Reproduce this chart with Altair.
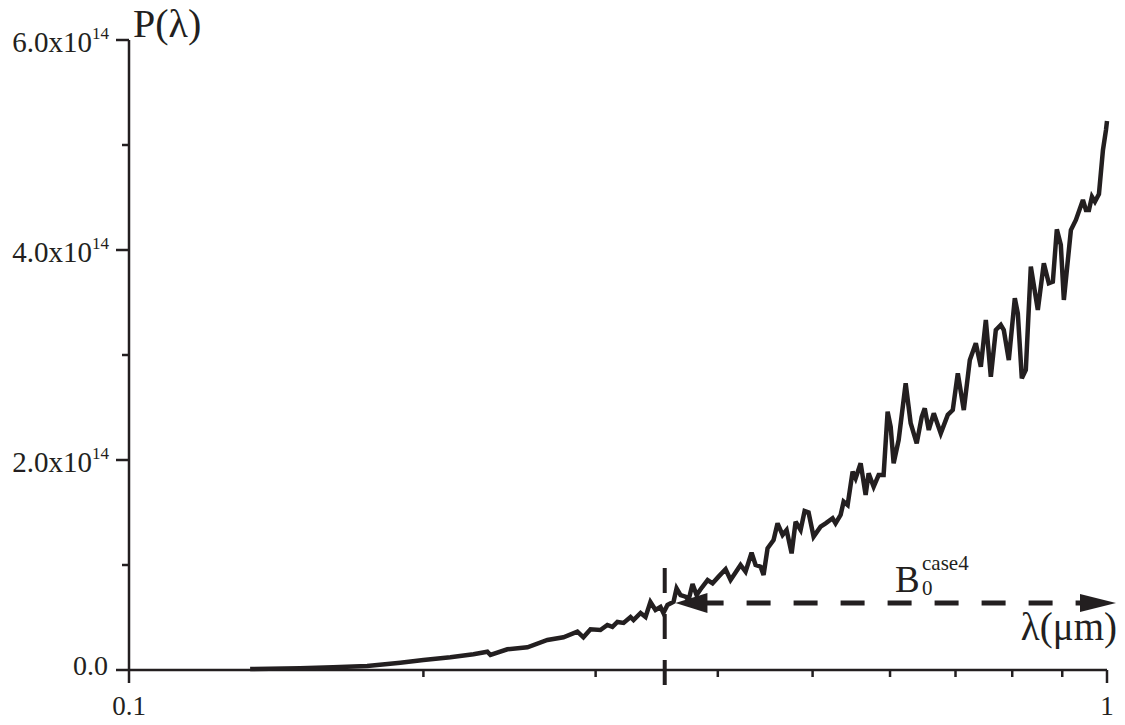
import altair as alt
import pandas as pd

INK = "#231f20"
SERIF = "Liberation Serif"

# Spectrum: wavelength (um) and power P(lambda) in units of 1e14
wavelength = [
    0.1330, 0.1496, 0.1617, 0.1752, 0.1894, 0.2000, 0.2131, 0.2250, 0.2325, 0.2342,
    0.2437, 0.2555, 0.2678, 0.2781, 0.2874, 0.2915, 0.2964, 0.3034, 0.3084, 0.3121,
    0.3158, 0.3204, 0.3257, 0.3280, 0.3335, 0.3374, 0.3413, 0.3454, 0.3495, 0.3519,
    0.3553, 0.3604, 0.3630, 0.3664, 0.3707, 0.3734, 0.3769, 0.3805, 0.3841, 0.3905,
    0.3951, 0.4007, 0.4074, 0.4122, 0.4220, 0.4270, 0.4331, 0.4372, 0.4424, 0.4455,
    0.4497, 0.4561, 0.4604, 0.4659, 0.4703, 0.4759, 0.4804, 0.4861, 0.4907, 0.4953,
    0.5012, 0.5095, 0.5156, 0.5241, 0.5278, 0.5341, 0.5379, 0.5430, 0.5494, 0.5533,
    0.5599, 0.5665, 0.5705, 0.5773, 0.5841, 0.5910, 0.5966, 0.6009, 0.6051, 0.6123,
    0.6225, 0.6299, 0.6389, 0.6465, 0.6511, 0.6573, 0.6651, 0.6761, 0.6874, 0.6955,
    0.7038, 0.7138, 0.7240, 0.7343, 0.7430, 0.7518, 0.7607, 0.7697, 0.7788, 0.7843,
    0.7936, 0.8049, 0.8106, 0.8183, 0.8260, 0.8358, 0.8497, 0.8618, 0.8720, 0.8803,
    0.8886, 0.8970, 0.9034, 0.9185, 0.9294, 0.9449, 0.9516, 0.9584, 0.9652, 0.9720,
    0.9812, 0.9905, 0.9976, 1.0000,
]
power_e14 = [
    0.010, 0.016, 0.026, 0.038, 0.070, 0.095, 0.121, 0.150, 0.174, 0.143,
    0.197, 0.216, 0.286, 0.311, 0.365, 0.311, 0.388, 0.381, 0.429, 0.410,
    0.457, 0.448, 0.505, 0.476, 0.543, 0.505, 0.648, 0.571, 0.600, 0.543,
    0.619, 0.650, 0.778, 0.714, 0.698, 0.667, 0.819, 0.714, 0.769, 0.857,
    0.826, 0.889, 0.959, 0.857, 1.000, 0.936, 1.117, 1.000, 0.984, 0.905,
    1.159, 1.238, 1.397, 1.286, 1.333, 1.111, 1.412, 1.333, 1.514, 1.500,
    1.270, 1.365, 1.397, 1.445, 1.397, 1.476, 1.603, 1.571, 1.889, 1.826,
    1.969, 1.667, 1.873, 1.746, 1.857, 1.857, 2.460, 2.317, 1.969, 2.190,
    2.730, 2.350, 2.159, 2.412, 2.492, 2.286, 2.445, 2.254, 2.430, 2.476,
    2.826, 2.476, 2.952, 3.111, 2.889, 3.333, 2.793, 3.238, 3.286, 3.238,
    2.952, 3.540, 3.397, 2.778, 2.857, 3.841, 3.429, 3.873, 3.683, 3.698,
    4.197, 4.048, 3.524, 4.190, 4.286, 4.476, 4.381, 4.381, 4.508, 4.460,
    4.533, 4.952, 5.143, 5.229,
]

# Axis ticks and labels
x_major = [0.1, 1.0]
x_major_labels = ["0.1", "1"]
x_minor = [0.2, 0.3, 0.4, 0.5, 0.6, 0.7, 0.8, 0.9]
y_major_e14 = [0.0, 2.0, 4.0, 6.0]
y_minor_e14 = [1.0, 3.0, 5.0]

# B0 band: cut-off wavelength and arrow extent
cutoff_lambda = 0.353
cutoff_top_e14 = 0.971
cutoff_bottom_e14 = -0.152
arrow_level_e14 = 0.638
arrow_shaft = [0.3832, 0.9406]
arrow_head_left = 0.3759
arrow_head_right = 0.9790

E14 = 1e14
W, H = 978, 630

xs = alt.Scale(type="log", domain=[0.1, 1.0], nice=False)
ys = alt.Scale(domain=[0, 6 * E14], nice=False, zero=False)


def X(field):
    return alt.X(field, type="quantitative", scale=xs, axis=None)


def Y(field):
    return alt.Y(field, type="quantitative", scale=ys, axis=None)


curve_df = pd.DataFrame({"lam": wavelength, "P": [v * E14 for v in power_e14]})
curve = alt.Chart(curve_df).mark_line(
    color=INK, strokeWidth=4.5, strokeJoin="miter", strokeMiterLimit=3
).encode(x=X("lam"), y=Y("P"))

# axis lines
xaxis_line = alt.Chart(pd.DataFrame({"a": [0.1], "b": [1.0], "p": [0.0]})).mark_rule(
    color=INK, strokeWidth=2.5
).encode(x=X("a"), x2="b", y=Y("p"))
yaxis_line = alt.Chart(pd.DataFrame({"a": [0.1], "p0": [0.0], "p1": [6 * E14]})).mark_rule(
    color=INK, strokeWidth=2.5
).encode(x=X("a"), y=Y("p0"), y2="p1")

# ticks
xmaj_df = pd.DataFrame({"lam": x_major, "label": x_major_labels})
x_major_ticks = alt.Chart(xmaj_df).mark_rule(color=INK, strokeWidth=2.5).encode(
    x=X("lam"), y=alt.value(H), y2=alt.value(H + 13)
)
x_minor_ticks = alt.Chart(pd.DataFrame({"lam": x_minor})).mark_rule(
    color=INK, strokeWidth=2.5
).encode(x=X("lam"), y=alt.value(H), y2=alt.value(H + 7))
x_labels = alt.Chart(xmaj_df).mark_text(
    font=SERIF, fontSize=27, color=INK, align="center", baseline="middle"
).encode(x=X("lam"), y=alt.value(H + 37), text="label:N")

ymaj_df = pd.DataFrame({
    "P": [v * E14 for v in y_major_e14],
    "base": [f"{v:.1f}" if v == 0 else f"{v:.1f}x10" for v in y_major_e14],
    "sup": ["" if v == 0 else "14" for v in y_major_e14],
})
y_major_ticks = alt.Chart(ymaj_df).mark_rule(color=INK, strokeWidth=2.5).encode(
    y=Y("P"), x=alt.value(-13), x2=alt.value(0)
)
y_minor_ticks = alt.Chart(pd.DataFrame({"P": [v * E14 for v in y_minor_e14]})).mark_rule(
    color=INK, strokeWidth=2.5
).encode(y=Y("P"), x=alt.value(-7), x2=alt.value(0))

zero_label = alt.Chart(ymaj_df).transform_filter("datum.P == 0").mark_text(
    font=SERIF, fontSize=28, color=INK, align="right", baseline="middle", dy=-3
).encode(y=Y("P"), x=alt.value(-21), text="base:N")
exp_labels = alt.Chart(ymaj_df).transform_filter("datum.P > 0").mark_text(
    font=SERIF, fontSize=29, color=INK, align="right", baseline="middle", dy=3
).encode(y=Y("P"), x=alt.value(-37), text="base:N")
exp_sup = alt.Chart(ymaj_df).transform_filter("datum.P > 0").mark_text(
    font=SERIF, fontSize=17, color=INK, align="left", baseline="middle", dy=-6
).encode(y=Y("P"), x=alt.value(-37), text="sup:N")


# axis titles
def free_text(txt, x, y, size, align="left"):
    return alt.Chart(pd.DataFrame({"t": [txt]})).mark_text(
        font=SERIF, fontSize=size, color=INK, align=align, baseline="alphabetic"
    ).encode(x=alt.value(x), y=alt.value(y), text="t:N")


p_title = free_text("P(λ)", 4, -3, 40)
lam_title = free_text("λ(μm)", 988, 600, 39, align="right")

# B0 annotation
b_main = free_text("B", 766, 552, 37)
b_sub = free_text("0", 793, 555, 21)
b_sup = free_text("case4", 793, 530, 21)

cut_df = pd.DataFrame({
    "lam": [cutoff_lambda],
    "top": [cutoff_top_e14 * E14],
    "bot": [cutoff_bottom_e14 * E14],
})
cutoff = alt.Chart(cut_df).mark_rule(
    color=INK, strokeWidth=4, strokeDash=[25, 21]
).encode(x=X("lam"), y=Y("top"), y2="bot")

shaft_df = pd.DataFrame({
    "a": [arrow_shaft[0]], "b": [arrow_shaft[1]], "p": [arrow_level_e14 * E14]
})
shaft = alt.Chart(shaft_df).mark_rule(
    color=INK, strokeWidth=5, strokeDash=[24, 23]
).encode(x=X("a"), x2="b", y=Y("p"))

head_l = alt.Chart(pd.DataFrame({"lam": [arrow_head_left], "p": [arrow_level_e14 * E14]})).mark_point(
    shape="M -1 0 L 1 -0.62 L 1 0.62 Z", size=1024, filled=True, color=INK, opacity=1, strokeWidth=0
).encode(x=X("lam"), y=Y("p"))
head_r = alt.Chart(pd.DataFrame({"lam": [arrow_head_right], "p": [arrow_level_e14 * E14]})).mark_point(
    shape="M 1 0 L -1 -0.5 L -1 0.5 Z", size=1296, filled=True, color=INK, opacity=1, strokeWidth=0
).encode(x=X("lam"), y=Y("p"))

chart = alt.layer(
    xaxis_line, yaxis_line, x_major_ticks, x_minor_ticks, y_major_ticks, y_minor_ticks,
    x_labels, zero_label, exp_labels, exp_sup,
    cutoff, shaft, head_l, head_r, curve,
    p_title, lam_title, b_main, b_sub, b_sup,
).properties(
    width=W, height=H,
    background="white",
    autosize=alt.AutoSizeParams(type="none"),
    padding={"left": 129, "top": 40, "right": 18, "bottom": 55},
).configure_view(strokeWidth=0)

chart.save("out.html", embed_options={"renderer": "svg", "actions": False})
